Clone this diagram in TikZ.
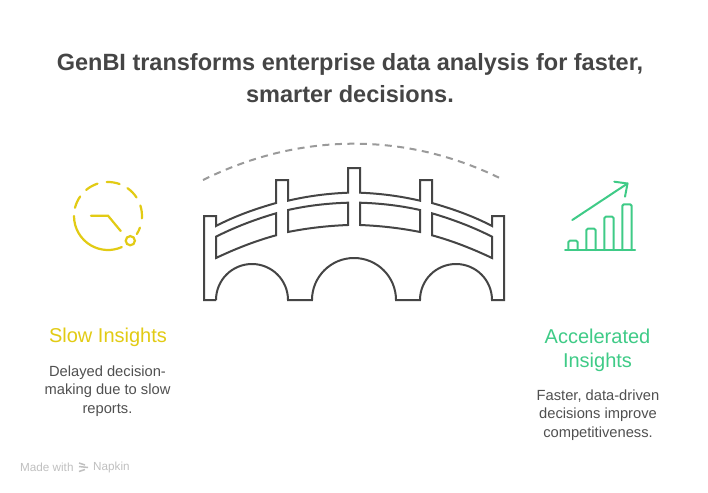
\documentclass[tikz,border=0pt]{standalone}
\usepackage{fontspec}
\setmainfont{Liberation Sans}
\definecolor{ink}{HTML}{454545}
\definecolor{body}{HTML}{505050}
\definecolor{yel}{HTML}{E2CB14}
\definecolor{grn}{HTML}{3FCB87}
\definecolor{dash}{HTML}{9A9A9A}
\definecolor{mark}{HTML}{C0C0C0}
\tikzset{
 bridge/.style={draw=ink,line width=2pt,line join=miter},
 titletext/.style={text=ink,font=\fontsize{23.5}{31.5}\selectfont\bfseries,align=center,inner sep=0pt},
 headtext/.style={font=\fontsize{20}{24.5}\selectfont,align=center,inner sep=0pt},
 bodytext/.style={text=body,font=\fontsize{14.7}{18.3}\selectfont,align=center,inner sep=0pt},
 clockline/.style={draw=yel,line width=2.2pt,line cap=round},
 chartline/.style={draw=grn,line width=2pt,line cap=round,line join=round},
 marktext/.style={text=mark,font=\fontsize{11.7}{13}\selectfont,inner sep=0pt,anchor=west}
}
\begin{document}
\begin{tikzpicture}[x=1pt,y=-1pt]
\useasboundingbox (0,0) rectangle (708,492);
\fill[white] (0,0) rectangle (708,492);
\node[titletext] (title) at (350,78) {GenBI transforms enterprise data analysis for faster,\\smarter decisions.};
% dashed arc
\draw[draw=dash,line width=2pt,dash pattern=on 7pt off 5.5pt] (203,180) .. controls (300,132) and (405,132) .. (499,177.7);
% bridge outline
\draw[bridge] (216,300) -- (204,300) -- (204,216) -- (216,216) -- (216,226)
 .. controls (235,216) and (255,209) .. (276,203) -- (276,180) -- (288,180) -- (288,200.7)
 .. controls (308,196) and (328,193.5) .. (348,192.7) -- (348,168) -- (360,168) -- (360,192.7)
 .. controls (380,193.5) and (400,196) .. (420,200.7) -- (420,180) -- (432,180) -- (432,203)
 .. controls (453,209) and (473,216) .. (492,226) -- (492,216) -- (504,216) -- (504,300) -- (492,300)
 arc[start angle=0,end angle=-180,radius=36] -- (396,300)
 arc[start angle=0,end angle=-180,radius=42] -- (288,300)
 arc[start angle=0,end angle=-180,radius=36];
\draw[bridge] (216,236.7) .. controls (235,227) and (255,219.5) .. (276,213.3) -- (276,235.3) .. controls (255,241) and (235,249) .. (216,258) -- cycle;
\draw[bridge] (288,210) .. controls (308,205.5) and (328,203.3) .. (348,202.7) -- (348,225) .. controls (328,225.8) and (308,228) .. (288,232) -- cycle;
\draw[bridge] (360,202.7) .. controls (380,203.3) and (400,205.5) .. (420,210) -- (420,232) .. controls (400,228) and (380,225.8) .. (360,225) -- cycle;
\draw[bridge] (432,213.3) .. controls (453,219.5) and (473,227) .. (492,236.7) -- (492,258) .. controls (473,249) and (453,241) .. (432,235.3) -- cycle;
% clock
\foreach \a/\b in {180/294,328/340,356/378,393/415,430/452,468/490,505/526}{
 \draw[clockline] ({108+34*cos(\a)},{216-34*sin(\a)}) arc[start angle=-\a,end angle=-\b,radius=34];
}
\draw[clockline] (91,215.7) -- (108,215.7) -- (120.7,231);
\draw[draw=yel,line width=2.2pt] (130.3,240.7) circle[radius=4.6];
% chart
\draw[chartline] (565,250) -- (635,250);
\foreach \l/\t in {568.3/240.7,586.3/228.7,604.3/216.7,622.3/204.3}{
 \draw[chartline,rounded corners=1.5pt] (\l,250) -- (\l,\t) -- (\l+9.4,\t) -- (\l+9.4,250);
}
\draw[chartline] (572.3,220) -- (627.5,183.5);
\draw[chartline] (614.3,181.7) -- (627.5,183.5) -- (625,196.7);
% texts
\node[headtext,text=yel] (slow) at (108,337) {Slow Insights};
\node[bodytext] (slowb) at (107.5,391) {Delayed decision-\\making due to slow\\reports.};
\node[headtext,text=grn] (fast) at (597.5,350.5) {Accelerated\\Insights};
\node[bodytext] (fastb) at (598,415) {Faster, data-driven\\decisions improve\\competitiveness.};
% watermark
\node[marktext] (made) at (20,467.5) {Made with};
\draw[draw=mark,line width=1.5pt] (79,463) -- (85,465) (79,466.5) -- (88,467.5) (79,471.5) -- (85,469.5);
\node[marktext] (napkin) at (93,467.5) {Napkin};
\end{tikzpicture}
\end{document}
